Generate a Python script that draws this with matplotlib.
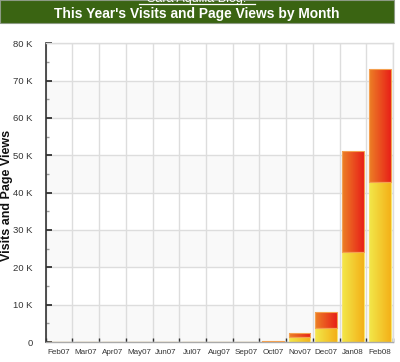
import numpy as np
import matplotlib
matplotlib.use("Agg")
import matplotlib.pyplot as plt
from matplotlib.patches import Rectangle
from matplotlib.lines import Line2D
from matplotlib.ticker import MultipleLocator, FuncFormatter

months = ["Feb07", "Mar07", "Apr07", "May07", "Jun07", "Jul07", "Aug07",
          "Sep07", "Oct07", "Nov07", "Dec07", "Jan08", "Feb08"]
visits = [0, 0, 0, 0, 0, 0, 0, 0, 80, 1400, 3700, 24100, 42800]
pageviews = [0, 0, 0, 0, 0, 0, 0, 0, 200, 900, 4300, 27000, 30300]
title = "This Year's Visits and Page Views by Month"
ylabel = "Visits and Page Views"
blog_name = "Sara Aquilla Blog."

plt.rcParams['font.family'] = ['Liberation Sans', 'DejaVu Sans']

fig = plt.figure(figsize=(4.0, 3.62), dpi=100)
W, H = 400, 362

# title bar
fig.patches.append(Rectangle((0, 1 - 23 / H), 394 / W, 23 / H, transform=fig.transFigure,
                             facecolor="#3a6412", edgecolor="#8c9a84", linewidth=0.8, zorder=0))
fig.text(197 / W, 1 - 14 / H, title, color="white", fontsize=9.9, fontweight="bold",
         ha="center", va="center", zorder=3)
fig.text(197 / W, 1 - 2 / H, blog_name, color="white", fontsize=9, ha="center",
         va="baseline", zorder=3)
fig.lines.append(Line2D([139 / W, 255 / W], [1 - 4 / H, 1 - 4 / H], transform=fig.transFigure,
                        color="white", linewidth=0.9, zorder=3))

ax = fig.add_axes([45.7 / W, 20 / H, 347.3 / W, 298.7 / H])
n = len(months)
x = np.arange(n)
ax.set_xlim(-0.5, n - 0.5)
ax.set_ylim(0, 80000)

# alternating bands
for lo in range(0, 80000, 20000):
    ax.axhspan(lo, lo + 10000, facecolor="#f9f9f9", edgecolor="none", zorder=0)

ax.set_axisbelow(True)
ax.yaxis.set_major_locator(MultipleLocator(10000))
ax.yaxis.set_minor_locator(MultipleLocator(5000))
ax.yaxis.set_major_formatter(FuncFormatter(lambda v, p: "0" if v == 0 else f"{int(v/1000)} K"))
ax.grid(axis="y", which="major", color="#dddddd", linewidth=1.0)
ax.set_xticks(x)
ax.set_xticklabels(months)
ax.set_xticks(np.arange(n + 1) - 0.5, minor=True)
ax.grid(axis="x", which="minor", color="#dddddd", linewidth=1.0)

ax.tick_params(axis="x", which="major", length=0, pad=5, labelsize=5.8, labelcolor="#333333")
ax.tick_params(axis="x", which="minor", direction="in", length=3, width=1, color="#333333")
ax.tick_params(axis="y", which="major", direction="in", length=4, width=1.2, color="#222222",
               pad=9.5, labelsize=6.8, labelcolor="#333333")
ax.tick_params(axis="y", which="minor", direction="in", length=2, width=1, color="#999999")

for s in ["top", "right"]:
    ax.spines[s].set_color("#dddddd")
    ax.spines[s].set_linewidth(1.0)
ax.spines["left"].set_color("#333333")
ax.spines["left"].set_linewidth(1.2)
ax.spines["bottom"].set_color("#aaaaaa")
ax.spines["bottom"].set_linewidth(1.0)

ax.set_ylabel(ylabel, fontsize=9.0, fontweight="bold", color="#111111", va="center")
ax.yaxis.set_label_coords((7.5 - 45.7) / 347.3, (342 - 195) / 298.7)

width = 0.82
yellow = np.array([[0xf2, 0xe8, 0x4a], [0xf4, 0xb0, 0x18]]) / 255
red = np.array([[0xec, 0x80, 0x26], [0xe8, 0x20, 0x18]]) / 255


def grad_img(c):
    t = np.linspace(0, 1, 64)
    row = c[0][None, :] * (1 - t[:, None]) + c[1][None, :] * t[:, None]
    return row[None, :, :]


bars_v = ax.bar(x, visits, width=width, color="none", edgecolor="#f8e46a", linewidth=0.8, zorder=3)
bars_p = ax.bar(x, pageviews, width=width, bottom=visits, color="none", edgecolor="#f4a050",
                linewidth=0.8, zorder=3)
for bars, cols in [(bars_v, yellow), (bars_p, red)]:
    for b in bars:
        h = b.get_height()
        if h <= 0:
            continue
        x0, y0 = b.get_x(), b.get_y()
        im = ax.imshow(grad_img(cols), extent=[x0, x0 + b.get_width(), y0, y0 + h],
                       aspect="auto", zorder=2, interpolation="bilinear")
        im.set_clip_path(b)

ax.set_xlim(-0.5, n - 0.5)
ax.set_ylim(0, 80000)

fig.savefig("out.png", dpi=100)
